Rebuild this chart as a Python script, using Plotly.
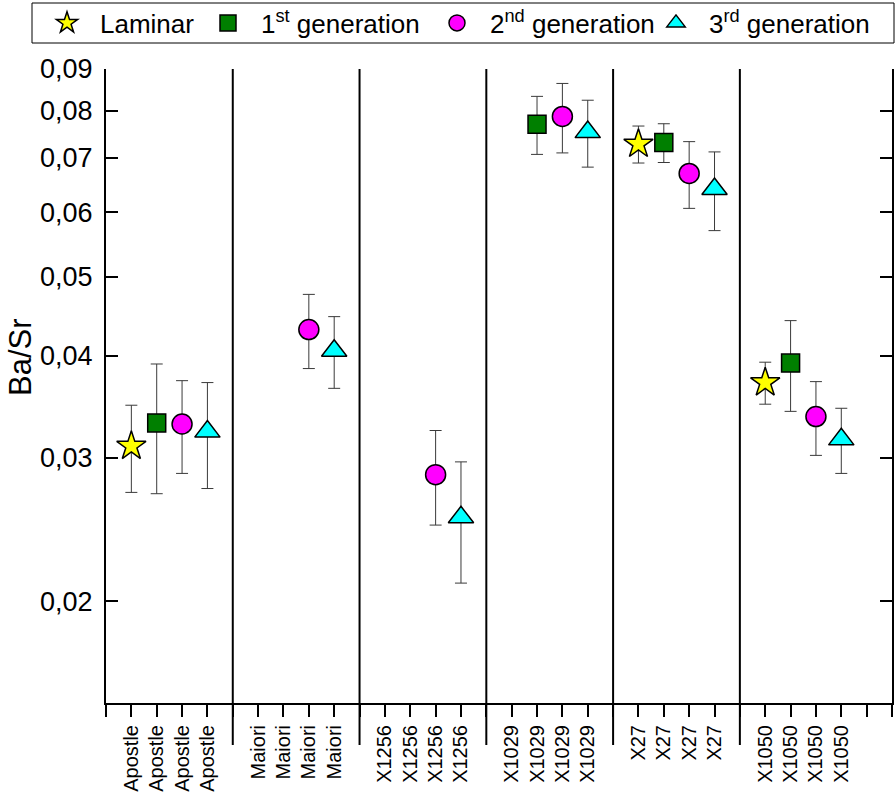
import math
import plotly.graph_objects as go

# ---------------- data ----------------
groups = ["Apostle", "Maiori", "X1256", "X1029", "X27", "X1050"]
series_names = ["Laminar", "1<sup>st</sup> generation", "2<sup>nd</sup> generation", "3<sup>rd</sup> generation"]

laminar = [0.0310, None, None, None, 0.0728, 0.0371]
laminar_err = [0.0038, None, None, None, 0.0038, 0.0022]

gen1 = [0.0331, None, None, 0.0770, 0.0731, 0.0392]
gen1_err = [0.0060, None, None, 0.0063, 0.0040, 0.0050]

gen2 = [0.0330, 0.0431, 0.0286, 0.0787, 0.0670, 0.0337]
gen2_err = [0.0043, 0.0045, 0.0038, 0.0077, 0.0063, 0.0035]

gen3 = [0.0323, 0.0406, 0.02535, 0.0753, 0.0641, 0.0316]
gen3_err = [0.0048, 0.0041, 0.0043, 0.0071, 0.0071, 0.0029]

y_ticks = [0.02, 0.03, 0.04, 0.05, 0.06, 0.07, 0.08, 0.09]
y_tick_labels = ["0,02", "0,03", "0,04", "0,05", "0,06", "0,07", "0,08", "0,09"]
y_title = "Ba/Sr"

# ---------------- styles ----------------
values = [laminar, gen1, gen2, gen3]
errors = [laminar_err, gen1_err, gen2_err, gen3_err]
symbols = ["star", "square", "circle", "triangle-up"]
colors = ["#FFFF00", "#007F00", "#FF00FF", "#00FFFF"]
sizes = [22, 18, 20, 22]
legend_px = [68, 229, 458, 677]   # symbol centres of legend entries (px)

W, H = 896, 795
L, R, T, B = 106, 4, 69, 92
pw, ph = W - L - R, H - T - B
ITEMW = 56

n_per = len(values)          # slots per group
step = n_per + 1             # group width in slot units
x_max = len(groups) * step + 1

fig = go.Figure()
for s in range(n_per):
    xs, ys, es = [], [], []
    for g in range(len(groups)):
        v = values[s][g]
        if v is None:
            continue
        xs.append(g * step + s + 1)
        ys.append(v)
        es.append(errors[s][g])
    fig.add_trace(go.Scatter(
        x=xs, y=ys, mode="markers", name=series_names[s],
        legend="legend" if s == 0 else f"legend{s+1}",
        marker=dict(symbol=symbols[s], size=sizes[s], color=colors[s],
                    line=dict(color="black", width=1.5)),
        error_y=dict(type="data", array=es, visible=True, color="#3a3a3a",
                     thickness=1, width=6),
        cliponaxis=False,
    ))

# category tick labels along bottom
tickvals, ticktext = [], []
for g, name in enumerate(groups):
    for s in range(n_per):
        tickvals.append(g * step + s + 1)
        ticktext.append(name)

# separators between groups
for g in range(1, len(groups)):
    fig.add_shape(type="line", xref="x", yref="paper",
                  x0=g * step, x1=g * step, y0=1, y1=-42 / ph,
                  line=dict(color="black", width=2))

# legend box
fig.add_shape(type="rect", xref="paper", yref="paper",
              x0=(32 - L) / pw, x1=(894 - L) / pw,
              y0=(H - B - 43) / ph, y1=(H - B - 3) / ph,
              line=dict(color="black", width=1), fillcolor="white", layer="below")

legend_font = dict(family="Liberation Sans, Arial", size=26, color="black")
for s in range(n_per):
    key = "legend" if s == 0 else f"legend{s+1}"
    fig.update_layout({key: dict(
        x=(legend_px[s] - (ITEMW / 2 + 6) - L) / pw, xanchor="left",
        y=(H - B - 23) / ph, yanchor="middle",
        orientation="h", bgcolor="rgba(0,0,0,0)", borderwidth=0,
        font=legend_font, itemwidth=ITEMW, itemsizing="trace",
    )})

axis_font = dict(family="Liberation Sans, Arial", color="black")

# y-axis title (placed as in the reference, above the vertical centre)
fig.add_annotation(text=y_title, textangle=-90, showarrow=False,
                   xref="paper", yref="paper",
                   x=(21 - L) / pw, y=(H - B - 357) / ph,
                   xanchor="center", yanchor="middle", borderpad=0,
                   font=dict(size=31, **axis_font))

fig.update_layout(
    width=W, height=H,
    margin=dict(l=L, r=R, t=T, b=B, pad=0, autoexpand=False),
    paper_bgcolor="white", plot_bgcolor="white",
    font=dict(family="Liberation Sans, Arial", color="black"),
    showlegend=True,
    xaxis=dict(
        range=[0, x_max], tickmode="array", tickvals=tickvals, ticktext=ticktext,
        tickangle=-90, ticks="outside", ticklen=12, tickwidth=2, tickcolor="black",
        minor=dict(tickmode="linear", tick0=0, dtick=1, ticks="outside",
                   ticklen=12, tickwidth=2, tickcolor="black", showgrid=False),
        showline=True, linecolor="black", linewidth=2, showgrid=False, zeroline=False,
        tickfont=dict(size=20, **axis_font),
    ),
    xaxis2=dict(
        range=[0, x_max], overlaying="x", side="top", anchor="y",
        tickmode="linear", tick0=0, dtick=1, showticklabels=False,
        ticks="inside", ticklen=12, tickwidth=2, tickcolor="black",
        showline=True, linecolor="black", linewidth=2, showgrid=False, zeroline=False,
    ),
    yaxis=dict(
        type="log", range=[math.log10(0.015), math.log10(0.09)],
        tickmode="array", tickvals=y_ticks, ticktext=y_tick_labels,
        ticks="inside", ticklen=12, tickwidth=2, tickcolor="black",
        showline=True, linecolor="black", linewidth=2, mirror="ticks",
        showgrid=False, zeroline=False, ticklabelstandoff=6,
        tickfont=dict(size=27, **axis_font),
    ),
)

fig.write_html("out.html", config={"displayModeBar": False},
               post_script="document.body.style.margin='0';")
